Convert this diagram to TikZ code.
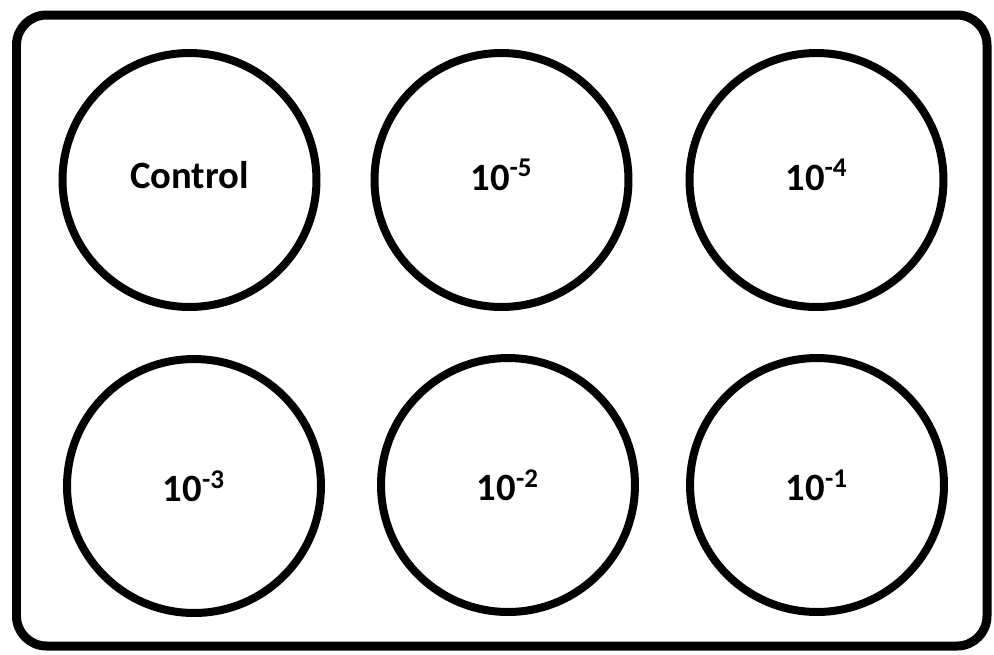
\documentclass[tikz,border=0pt]{standalone}
\usepackage{fontspec}
\setmainfont{Carlito}
\usetikzlibrary{positioning}
\tikzset{
  every picture/.style={font=\bfseries\fontsize{22}{26}\selectfont},
  plate/.style={draw=black, line width=0.18cm, rounded corners=0.6cm},
  well/.style={draw=black, circle, line width=0.16cm, minimum size=5.08cm, inner sep=0pt, align=center},
}
\newcommand{\dil}[1]{10\textsuperscript{-#1}}

\begin{document}
\begin{tikzpicture}[x=0.02cm, y=-0.02cm]
  \useasboundingbox (0,0) rectangle (994,654);
  \draw[plate] (16.5,15) rectangle (987,646);
  % row 1
  \node[well] (control) at (189.5,180) {Control\rule[-6pt]{0pt}{1pt}};
  \node[well] (d5) at (501.5,180) {\dil{5}\rule[-6pt]{0pt}{1pt}};
  \node[well] (d4) at (816.5,180) {\dil{4}\rule[-6pt]{0pt}{1pt}};
  % row 2
  \node[well] (d3) at (194,486) {\dil{3}};
  \node[well] (d2) at (508,485) {\dil{2}};
  \node[well] (d1) at (817,485) {\dil{1}};
\end{tikzpicture}
\end{document}
